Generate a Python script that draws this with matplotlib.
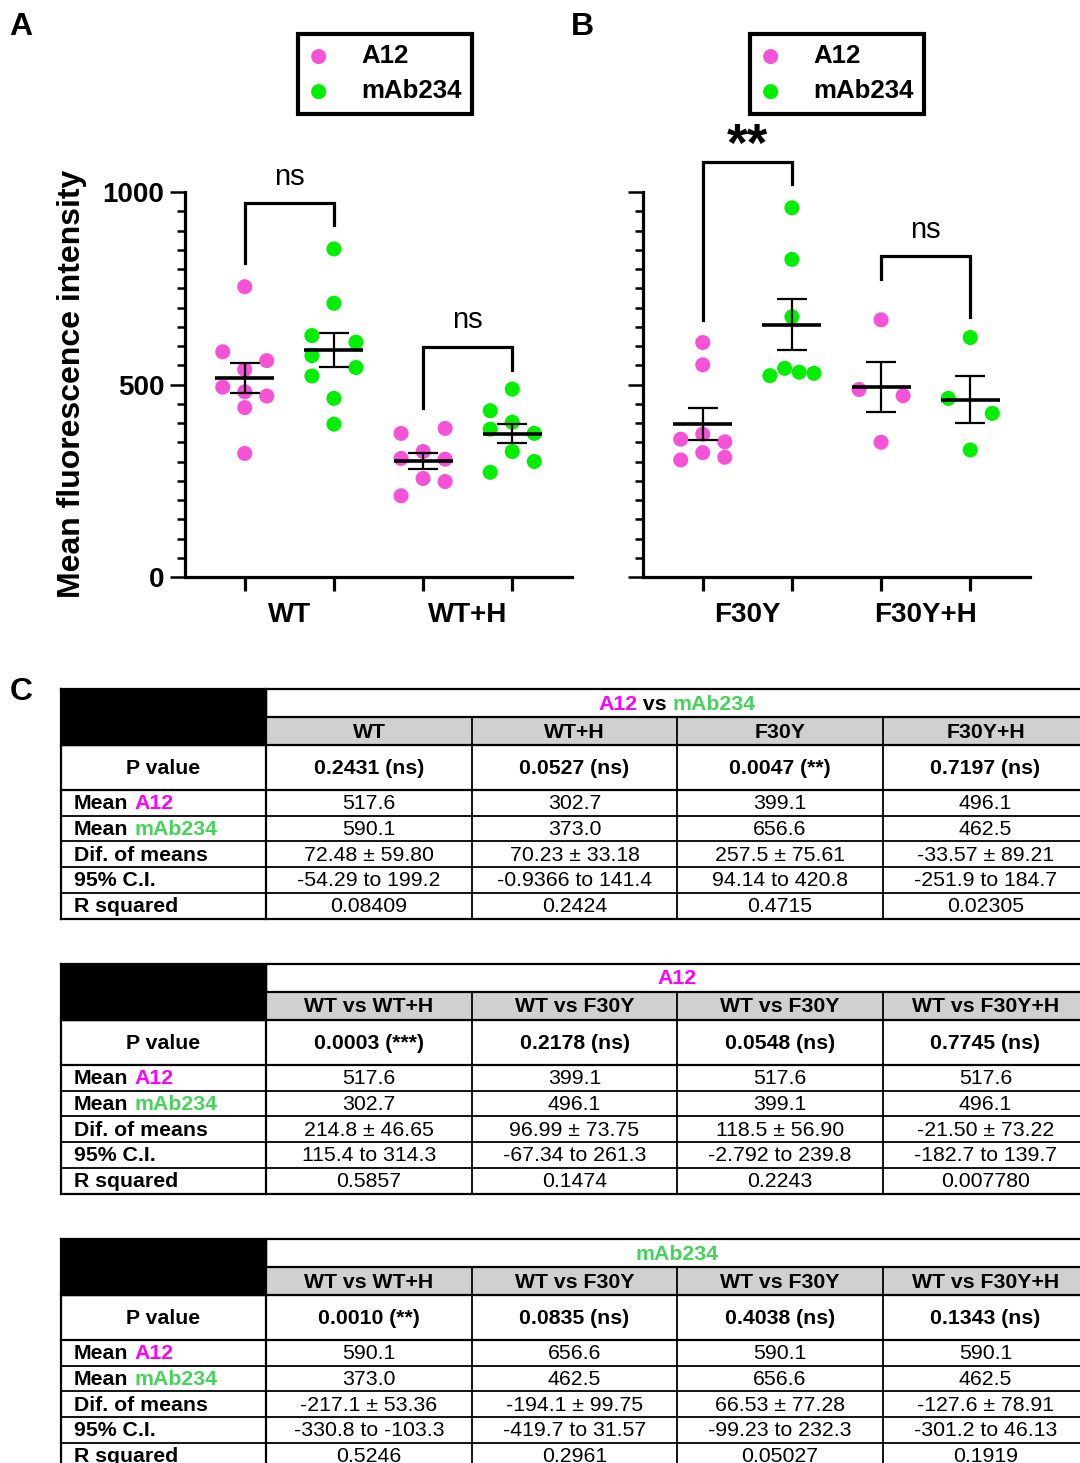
import numpy as np
import matplotlib
matplotlib.use("Agg")
import matplotlib.pyplot as plt
from matplotlib.patches import Rectangle
from matplotlib.ticker import MultipleLocator
from matplotlib.offsetbox import TextArea, HPacker, AnnotationBbox

plt.rcParams['font.family'] = ['Liberation Sans', 'DejaVu Sans']

# ---- data ----
wt_a12 = [754, 585, 562, 539, 493, 481, 470, 440, 321]
wt_mab = [852, 711, 627, 610, 575, 544, 522, 464, 397]
wth_a12 = [386, 373, 326, 308, 306, 256, 248, 211]
wth_mab = [488, 432, 402, 384, 373, 326, 300, 272]
f30y_a12 = [609, 551, 371, 358, 351, 323, 311, 304]
f30y_mab = [959, 825, 676, 542, 532, 529, 523]
f30yh_a12 = [668, 487, 471, 350]
f30yh_mab = [622, 464, 425, 330]

# horizontal scatter slots (in dot widths)
off_wt_a12 = [0, -1, 1, 0, -1, 0, 1, 0, 0]
off_wt_mab = [0, 0, -1, 1, -1, 1, -1, 0, 0]
off_wth_a12 = [1, -1, 0, -1, 1, 0, 1, -1]
off_wth_mab = [0, -1, 0, -1, 1, 0, 1, -1]
off_f30y_a12 = [0, 0, 0, -1, 1, 0, 1, -1]
off_f30y_mab = [0, 0, 0, -0.33, 0.33, 1, -1]
off_f30yh_a12 = [0, -1, 1, 0]
off_f30yh_mab = [0, -1, 1, 0]

series_names = ['A12', 'mAb234']
cat_a = ['WT', 'WT+H']
cat_b = ['F30Y', 'F30Y+H']

pink = '#F652D8'
green = '#00EE00'
txt_pink = '#FF00FF'
txt_green = '#45D35A'

# ---- table data ----
t1_title = [('A12', txt_pink), (' vs ', 'black'), ('mAb234', txt_green)]
t1_cols = ['WT', 'WT+H', 'F30Y', 'F30Y+H']
t1_p = ['0.2431 (ns)', '0.0527 (ns)', '0.0047 (**)', '0.7197 (ns)']
t1_mean_a12 = ['517.6', '302.7', '399.1', '496.1']
t1_mean_mab = ['590.1', '373.0', '656.6', '462.5']
t1_dif = ['72.48 ± 59.80', '70.23 ± 33.18', '257.5 ± 75.61', '-33.57 ± 89.21']
t1_ci = ['-54.29 to 199.2', '-0.9366 to 141.4', '94.14 to 420.8', '-251.9 to 184.7']
t1_r2 = ['0.08409', '0.2424', '0.4715', '0.02305']

t2_title = [('A12', txt_pink)]
t2_cols = ['WT vs WT+H', 'WT vs F30Y', 'WT vs F30Y', 'WT vs F30Y+H']
t2_p = ['0.0003 (***)', '0.2178 (ns)', '0.0548 (ns)', '0.7745 (ns)']
t2_mean_a12 = ['517.6', '399.1', '517.6', '517.6']
t2_mean_mab = ['302.7', '496.1', '399.1', '496.1']
t2_dif = ['214.8 ± 46.65', '96.99 ± 73.75', '118.5 ± 56.90', '-21.50 ± 73.22']
t2_ci = ['115.4 to 314.3', '-67.34 to 261.3', '-2.792 to 239.8', '-182.7 to 139.7']
t2_r2 = ['0.5857', '0.1474', '0.2243', '0.007780']

t3_title = [('mAb234', txt_green)]
t3_cols = ['WT vs WT+H', 'WT vs F30Y', 'WT vs F30Y', 'WT vs F30Y+H']
t3_p = ['0.0010 (**)', '0.0835 (ns)', '0.4038 (ns)', '0.1343 (ns)']
t3_mean_a12 = ['590.1', '656.6', '590.1', '590.1']
t3_mean_mab = ['373.0', '462.5', '656.6', '462.5']
t3_dif = ['-217.1 ± 53.36', '-194.1 ± 99.75', '66.53 ± 77.28', '-127.6 ± 78.91']
t3_ci = ['-330.8 to -103.3', '-419.7 to 31.57', '-99.23 to 232.3', '-301.2 to 46.13']
t3_r2 = ['0.5246', '0.2961', '0.05027', '0.1919']

W, H = 1080, 1463
fig = plt.figure(figsize=(W / 100, H / 100), dpi=100)

# overlay axes in pixel coordinates for tables / letters
bg = fig.add_axes([0, 0, 1, 1])
bg.set_xlim(0, W)
bg.set_ylim(H, 0)
bg.axis('off')
bg.patch.set_alpha(0)


def px_axes(x0, y0, x1, y1):
    return fig.add_axes([x0 / W, 1 - y1 / H, (x1 - x0) / W, (y1 - y0) / H])


def draw_dots(ax, groups):
    handles = []
    for i, (vals, offs, col) in enumerate(groups):
        vals = np.array(vals, dtype=float)
        xs = i + np.array(offs) * 0.247
        h = ax.scatter(xs, vals, s=117, color=col, edgecolors='none', zorder=2, clip_on=False)
        handles.append(h)
        m = vals.mean()
        sem = vals.std(ddof=1) / np.sqrt(len(vals))
        ax.hlines(m, i - 0.33, i + 0.33, color='black', lw=2.6, zorder=3)
        ax.errorbar(i, m, yerr=sem, fmt='none', ecolor='black', elinewidth=1.6,
                    capsize=10.8, capthick=1.6, zorder=3)
    return handles


def bracket(ax, x0, x1, ytop, yl, yr, label, fs=21, weight='normal', ty=None):
    ax.plot([x0, x0, x1, x1], [yl, ytop, ytop, yr], color='black', lw=2.3,
            clip_on=False, solid_joinstyle='miter', zorder=4)
    ax.text((x0 + x1) / 2, ty, label, ha='center', va='baseline', fontsize=fs,
            fontweight=weight, clip_on=False)


def style_axes(ax, cats, show_labels):
    ax.set_xlim(-0.67, 3.67)
    ax.set_ylim(0, 1000)
    for s in ['top', 'right']:
        ax.spines[s].set_visible(False)
    for s in ['left', 'bottom']:
        ax.spines[s].set_linewidth(2.3)
    ax.set_xticks([0, 1, 2, 3])
    ax.set_xticklabels([])
    ax.tick_params(axis='x', length=10, width=2.3, direction='out')
    ax.set_yticks([0, 500, 1000])
    ax.yaxis.set_minor_locator(MultipleLocator(50))
    ax.tick_params(axis='y', which='major', length=11, width=1.8, pad=4)
    ax.tick_params(axis='y', which='minor', length=5.5, width=1.8)
    if show_labels:
        ax.set_yticklabels(['0', '500', '1000'], fontsize=20, fontweight='bold')
    else:
        ax.set_yticklabels([])
    tr = ax.get_xaxis_transform()
    for k, c in enumerate(cats):
        ax.text(2 * k + 0.5, -0.099, c, transform=tr, ha='center', va='center',
                fontsize=20, fontweight='bold')
    ax.patch.set_alpha(0)


# ---- panel A ----
axA = px_axes(185, 192, 572, 577)
hA = draw_dots(axA, [(wt_a12, off_wt_a12, pink), (wt_mab, off_wt_mab, green),
                     (wth_a12, off_wth_a12, pink), (wth_mab, off_wth_mab, green)])
style_axes(axA, cat_a, True)
bracket(axA, 0, 1, 971, 816, 914, 'ns', ty=1018)
bracket(axA, 2, 3, 597, 439, 538, 'ns', ty=646)

# ---- panel B ----
axB = px_axes(643, 192, 1030, 577)
hB = draw_dots(axB, [(f30y_a12, off_f30y_a12, pink), (f30y_mab, off_f30y_mab, green),
                     (f30yh_a12, off_f30yh_a12, pink), (f30yh_mab, off_f30yh_mab, green)])
style_axes(axB, cat_b, False)
bracket(axB, 0, 1, 1079, 668, 1021, '**', fs=38, weight='bold', ty=1080)
bracket(axB, 2, 3, 834, 773, 676, 'ns', ty=880)

fig.text(72 / W, 1 - 384 / H, 'Mean fluorescence intensity', rotation=90, ha='center',
         va='center', fontsize=23, fontweight='bold')

for ax, hh, lx in [(axA, hA, 298), (axB, hB, 750)]:
    leg = ax.legend(hh[:2], series_names, loc='upper left', bbox_to_anchor=(lx / W, 1 - 34 / H),
                    bbox_transform=fig.transFigure, borderaxespad=0, fancybox=False,
                    edgecolor='black', framealpha=1, prop=dict(weight='bold', size=18.6),
                    handlelength=0.8, handletextpad=1.25, borderpad=0.4, labelspacing=0.43,
                    scatterpoints=1)
    leg.get_frame().set_linewidth(3.0)

for lab, x, y in [('A', 21, 27), ('B', 582, 27), ('C', 21, 692)]:
    bg.text(x, y, lab, ha='center', va='center', fontsize=23, fontweight='bold')

# ---- tables ----
FS = 15.3
col_x = [61, 266, 472, 677, 883, 1088]
row_labels = [[('Mean', 'black'), ('A12', txt_pink)],
              [('Mean', 'black'), ('mAb234', txt_green)],
              [('Dif. of means', 'black')],
              [('95% C.I.', 'black')],
              [('R squared', 'black')]]


def mixed_text(x, y, parts, halign, sep):
    boxes = [TextArea(s, textprops=dict(color=c, fontsize=FS, fontweight='bold')) for s, c in parts]
    pk = HPacker(children=boxes, align='baseline', pad=0, sep=sep)
    ab = AnnotationBbox(pk, (x, y), xycoords='data', frameon=False, pad=0,
                        box_alignment=(0.0 if halign == 'left' else 0.5, 0.5),
                        annotation_clip=False)
    bg.add_artist(ab)


def draw_table(top, title, cols, p, rows):
    ys = [top, top + 28, top + 56, top + 101]
    for k in range(5):
        ys.append(ys[-1] + 25.7)
    x0, x1 = col_x[0], col_x[-1]
    bg.add_patch(Rectangle((x0, ys[0]), col_x[1] - x0, ys[2] - ys[0], color='black', zorder=1))
    bg.add_patch(Rectangle((col_x[1], ys[1]), x1 - col_x[1], ys[2] - ys[1], color='#D0D0D0', zorder=1))
    # horizontal lines
    for k, y in enumerate(ys):
        xs = col_x[1] if k == 1 else x0
        lw = 1.3 if k >= 4 and k < len(ys) - 1 else 1.6
        bg.plot([xs, x1], [y, y], color='black', lw=lw, zorder=2)
    # vertical lines
    bg.plot([x0, x0], [ys[0], ys[-1]], color='black', lw=1.6, zorder=2)
    bg.plot([col_x[1], col_x[1]], [ys[0], ys[-1]], color='black', lw=1.6, zorder=2)
    for cx in col_x[2:5]:
        bg.plot([cx, cx], [ys[1], ys[-1]], color='black', lw=1.3, zorder=2)
    mixed_text((col_x[1] + x1) / 2, (ys[0] + ys[1]) / 2 + 1, title, 'center', 0)
    centers = [(col_x[j] + col_x[j + 1]) / 2 for j in range(1, 5)]
    for j, c in enumerate(cols):
        bg.text(centers[j], (ys[1] + ys[2]) / 2 + 1, c, ha='center', va='center',
                fontsize=FS, fontweight='bold', zorder=3)
    yp = (ys[2] + ys[3]) / 2 + 1
    bg.text((col_x[0] + col_x[1]) / 2, yp, 'P value', ha='center', va='center', fontsize=FS,
            fontweight='bold', zorder=3)
    for j, v in enumerate(p):
        bg.text(centers[j], yp, v, ha='center', va='center', fontsize=FS, fontweight='bold', zorder=3)
    for r, vals in enumerate(rows):
        yc = (ys[3 + r] + ys[4 + r]) / 2 + 1
        mixed_text(74, yc, row_labels[r], 'left', 4)
        for j, v in enumerate(vals):
            bg.text(centers[j], yc, v, ha='center', va='center', fontsize=FS, zorder=3)


draw_table(689, t1_title, t1_cols, t1_p, [t1_mean_a12, t1_mean_mab, t1_dif, t1_ci, t1_r2])
draw_table(964, t2_title, t2_cols, t2_p, [t2_mean_a12, t2_mean_mab, t2_dif, t2_ci, t2_r2])
draw_table(1239, t3_title, t3_cols, t3_p, [t3_mean_a12, t3_mean_mab, t3_dif, t3_ci, t3_r2])

fig.savefig('out.png', dpi=100)
